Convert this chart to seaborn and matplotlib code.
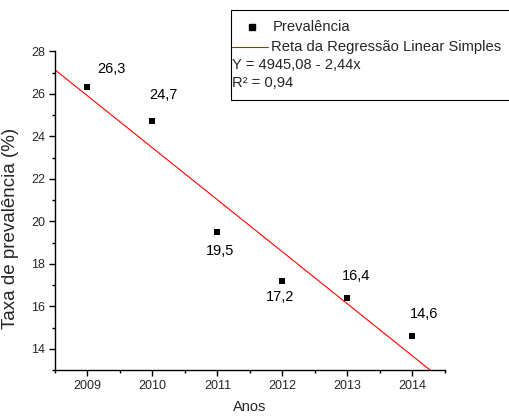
import numpy as np
import pandas as pd
import matplotlib
matplotlib.use("Agg")
import matplotlib.pyplot as plt
import seaborn as sns
from matplotlib.lines import Line2D
from matplotlib.patches import Rectangle
from matplotlib.ticker import AutoMinorLocator

# ---- data ----
anos = [2009, 2010, 2011, 2012, 2013, 2014]
prevalencia = [26.3, 24.7, 19.5, 17.2, 16.4, 14.6]
rotulos = ["26,3", "24,7", "19,5", "17,2", "16,4", "14,6"]
x_ticks = [2009, 2010, 2011, 2012, 2013, 2014]
y_ticks = [14, 16, 18, 20, 22, 24, 26, 28]
legend_labels = ["Prevalência", "Reta da Regressão Linear Simples"]
equacao = "Y = 4945,08 - 2,44x"
r2_texto = "R² = 0,94"

# label offsets (points), styling only
label_offsets = [(17, 13), (8, 19), (1.5, -14), (-2, -12), (6.5, 16), (8.5, 16)]

sns.set_theme(style="ticks")
plt.rcParams["font.family"] = ["Liberation Sans", "DejaVu Sans"]

df = pd.DataFrame({"Anos": anos, "Prevalencia": prevalencia})

W, H = 510, 416
fig = plt.figure(figsize=(W / 100, H / 100), dpi=100)
fig.patch.set_facecolor("white")
ax = fig.add_axes([55 / W, 1 - 370 / H, 390 / W, (370 - 51.3) / H])
ax.set_facecolor("white")
ax.set_xlim(2008.5, 2014.5)
ax.set_ylim(13, 28)

sns.regplot(data=df, x="Anos", y="Prevalencia", scatter=False, ci=None,
            truncate=False, color="#ff0000", line_kws={"lw": 0.8}, ax=ax)
sns.scatterplot(data=df, x="Anos", y="Prevalencia", marker="s", s=20,
                color="black", linewidth=0, ax=ax, zorder=3)

ax.set_xlim(2008.5, 2014.5)
ax.set_ylim(13, 28)
ax.set_xticks(x_ticks)
ax.set_xticklabels([str(v) for v in x_ticks])
ax.set_yticks(y_ticks)
ax.set_yticklabels([str(v) for v in y_ticks])
ax.xaxis.set_minor_locator(AutoMinorLocator(2))
ax.yaxis.set_minor_locator(AutoMinorLocator(2))
ax.tick_params(which="major", direction="out", length=4, width=1, labelsize=9, pad=3, color="black")
ax.tick_params(which="minor", direction="out", length=2.4, width=1, color="black")

for s in ["top", "right"]:
    ax.spines[s].set_visible(False)
for s in ["left", "bottom"]:
    ax.spines[s].set_linewidth(1.0)
    ax.spines[s].set_color("black")

ax.set_xlabel("Anos", fontsize=10.5)
ax.set_ylabel("Taxa de prevalência (%)", fontsize=13.5)
ax.xaxis.set_label_coords(0.5, -0.095)
ax.yaxis.set_label_coords(-0.092, 0.4455)

for x, y, t, off in zip(anos, prevalencia, rotulos, label_offsets):
    ax.annotate(t, (x, y), xytext=off, textcoords="offset points",
                ha="center", va="center", fontsize=10.5, color="black")

# ---- legend box (figure coordinates) ----
box = Rectangle((231 / W, 1 - 100 / H), (530 - 231) / W, 90 / H, fill=False,
                edgecolor="black", lw=0.8, transform=fig.transFigure, clip_on=False)
fig.add_artist(box)
fig.add_artist(Line2D([252 / W], [1 - 27 / H], marker="s", ms=4.5, color="black",
                      ls="none", transform=fig.transFigure))
fig.add_artist(Line2D([232 / W, 268 / W], [1 - 47 / H, 1 - 47 / H], color="#ff0000",
                      lw=0.8, transform=fig.transFigure))
fs_leg = 10.6
fig.text(273 / W, 1 - 27 / H, legend_labels[0], va="center", ha="left", fontsize=fs_leg)
fig.text(271 / W, 1 - 47 / H, legend_labels[1], va="center", ha="left", fontsize=fs_leg)
fig.text(232 / W, 1 - 65 / H, equacao, va="center", ha="left", fontsize=fs_leg)
fig.text(232 / W, 1 - 83 / H, r2_texto, va="center", ha="left", fontsize=fs_leg)

fig.savefig("out.png", dpi=100)
